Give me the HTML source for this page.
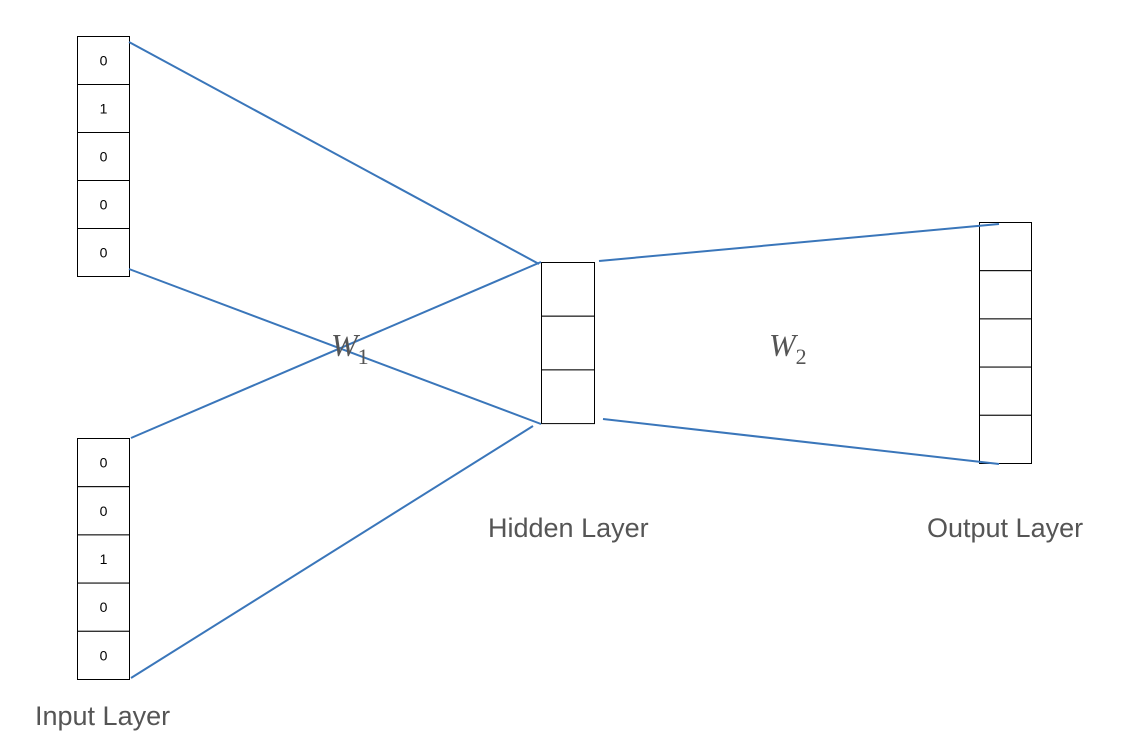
<!DOCTYPE html>
<html><head><meta charset="utf-8"><style>
body{margin:0;background:#fff;}
svg{display:block;}
.cell{fill:#fff;stroke:#000;stroke-width:1;}
.num{font-family:"Liberation Sans",sans-serif;font-size:14px;fill:#000;text-anchor:middle;}
.lbl{font-family:"Liberation Sans",sans-serif;font-size:27px;fill:#555;}
.w{font-family:"Liberation Serif",serif;font-style:italic;font-size:32px;fill:#555;}
.sub{font-family:"Liberation Serif",serif;font-style:normal;font-size:22px;fill:#555;}
.ln{stroke:#3a76ba;stroke-width:2;fill:none;}
</style></head><body>
<svg width="1136" height="752">
<g id="boxes"></g>
<g id="lines"></g>
<text class="w" x="331" y="356">W<tspan class="sub" dy="8">1</tspan></text>
<text class="w" x="769" y="356">W<tspan class="sub" dy="8">2</tspan></text>
<text class="lbl" x="488" y="537">Hidden Layer</text>
<text class="lbl" x="927" y="537">Output Layer</text>
<text class="lbl" x="35" y="725">Input Layer</text>
</svg>
<script>
const NS='http://www.w3.org/2000/svg';
const input1Values=['0','1','0','0','0'];
const input2Values=['0','0','1','0','0'];
const hiddenValues=['','',''];
const outputValues=['','','','',''];
const boxes=document.getElementById('boxes');
function stack(name,x,y,w,h,vals){
  vals.forEach((v,i)=>{
    const r=document.createElementNS(NS,'rect');
    r.setAttribute('x',x);r.setAttribute('y',y+i*h);r.setAttribute('width',w);r.setAttribute('height',h);
    r.setAttribute('class','cell');
    
    
    boxes.appendChild(r);
    if(v!==''){
      const t=document.createElementNS(NS,'text');
      t.setAttribute('x',x+w/2);t.setAttribute('y',y+i*h+h/2+5);t.setAttribute('class','num');
      t.textContent=v;
      
      
      boxes.appendChild(t);
    }
  });
}
stack('input1',77.5,36.5,52,48,input1Values);
stack('input2',77.5,438.5,52,48.2,input2Values);
stack('hidden',541.5,262.5,53,53.7,hiddenValues);
stack('output',979.5,222.5,52,48.2,outputValues);
const links=[[129,42,539,264],[129,269,541,424],[131,438,541,262],[131,678,533,426],[599,261,999,224],[603,419,999,464]];
const lg=document.getElementById('lines');
links.forEach(l=>{
  const p=document.createElementNS(NS,'line');
  p.setAttribute('x1',l[0]);p.setAttribute('y1',l[1]);p.setAttribute('x2',l[2]);p.setAttribute('y2',l[3]);
  p.setAttribute('class','ln');
  
  
  lg.appendChild(p);
});
</script>
</body></html>
